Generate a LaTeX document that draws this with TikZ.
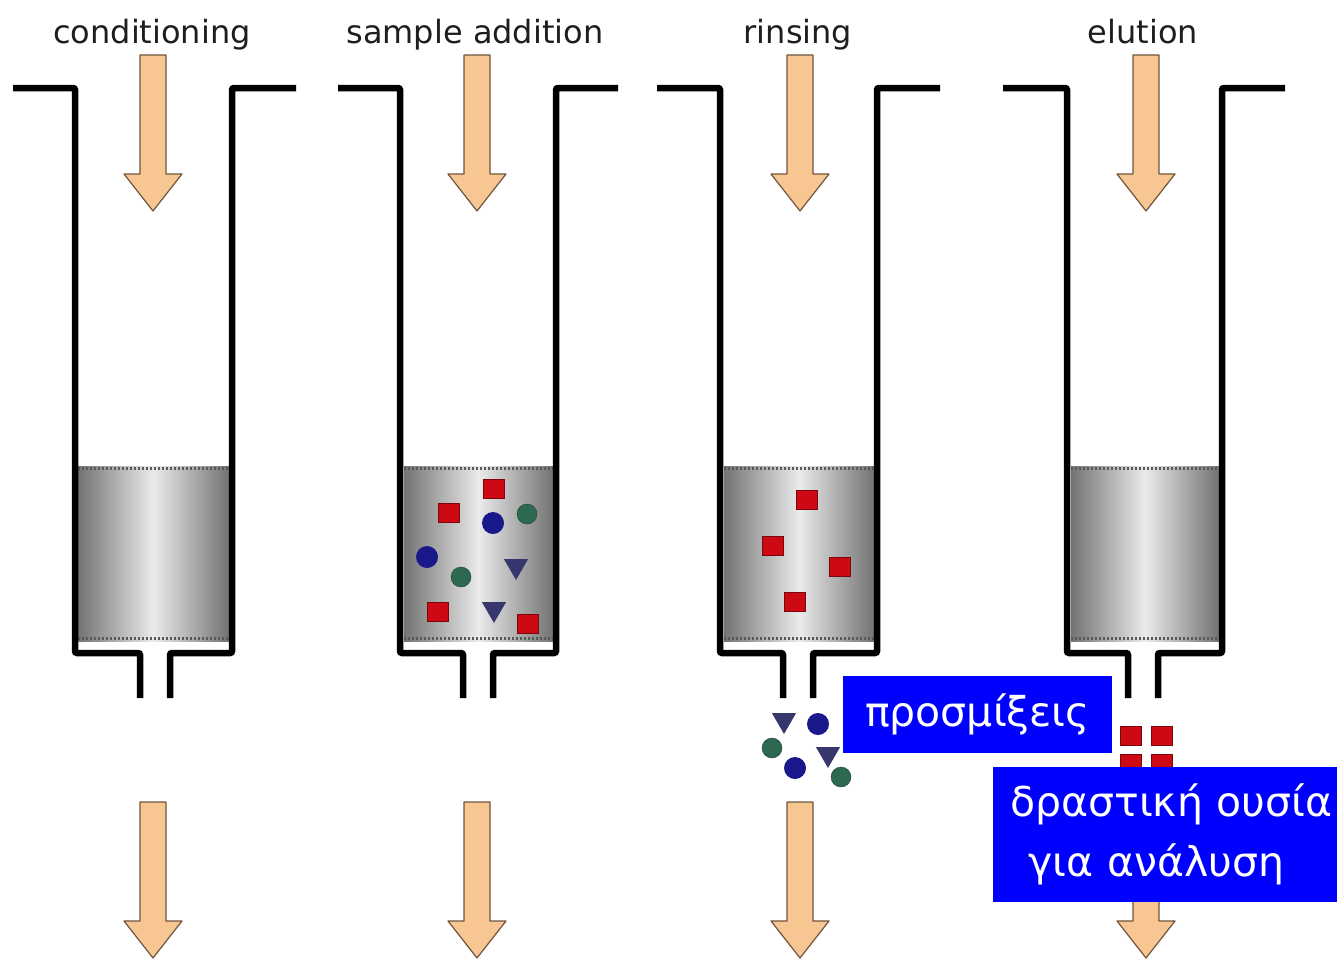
\documentclass[tikz,border=0pt]{standalone}
\usepackage{fontspec}
\setmainfont{DejaVu Sans}
\usetikzlibrary{shapes.geometric}

\definecolor{peach}{RGB}{248,198,146}
\definecolor{peachline}{RGB}{110,85,60}
\definecolor{beadred}{RGB}{205,10,20}
\definecolor{beadblue}{RGB}{25,25,140}
\definecolor{beadgreen}{RGB}{45,105,80}
\definecolor{beadnavy}{RGB}{55,55,110}
\definecolor{labelgray}{RGB}{30,30,30}

\begin{document}
\begin{tikzpicture}[x=1pt, y=-1pt,
    wall/.style={line width=6.5pt, rounded corners=2pt},
    frit/.style={line width=3pt, black!65, dash pattern=on 2pt off 2pt},
    packing/.style={left color=black!55, right color=black!55, middle color=black!8},
    flowarrow/.style={fill=peach, draw=peachline, line width=1.2pt, line join=round},
    steplabel/.style={anchor=base, text=labelgray, font=\fontsize{32}{38}\selectfont},
    tagbox/.style={fill=blue, text=white, inner sep=0pt, font=\fontsize{41}{60}\selectfont},
    redbead/.style={rectangle, fill=beadred, draw=beadred!60!black, line width=1pt, minimum width=21pt, minimum height=19pt, inner sep=0pt},
    bluebead/.style={circle, fill=beadblue, minimum size=22pt, inner sep=0pt},
    greenbead/.style={circle, fill=beadgreen, draw=beadgreen!60!black, minimum size=20pt, inner sep=0pt},
    navybead/.style={regular polygon, regular polygon sides=3, shape border rotate=180, fill=beadnavy, minimum size=28pt, inner sep=0pt}]
        \useasboundingbox (0, 0) rectangle (1337, 959);

        % packing beds
        \shade[packing] (78, 466) rectangle (229, 641);
        \shade[packing] (404, 466) rectangle (553, 641);
        \shade[packing] (724, 466) rectangle (874, 641);
        \shade[packing] (1071, 466) rectangle (1219, 641);
        \foreach \a/\b in {78/229, 404/553, 724/874, 1071/1219} {
            \draw[frit] (\a, 468) -- (\b, 468);
            \draw[frit] (\a, 638) -- (\b, 638);
        }

        % cartridges
        \draw[wall] (13, 88) -- (75, 88) -- (75, 653) -- (140, 653) -- (140, 698);
        \draw[wall] (170, 698) -- (170, 653) -- (232, 653) -- (232, 88) -- (296, 88);
        \draw[wall] (338, 88) -- (400, 88) -- (400, 653) -- (463, 653) -- (463, 698);
        \draw[wall] (493, 698) -- (493, 653) -- (556, 653) -- (556, 88) -- (618, 88);
        \draw[wall] (657, 88) -- (720, 88) -- (720, 653) -- (783, 653) -- (783, 698);
        \draw[wall] (813, 698) -- (813, 653) -- (877, 653) -- (877, 88) -- (940, 88);
        \draw[wall] (1003, 88) -- (1067, 88) -- (1067, 653) -- (1128, 653) -- (1128, 698);
        \draw[wall] (1158, 698) -- (1158, 653) -- (1222, 653) -- (1222, 88) -- (1285, 88);

        % flow arrows
        \foreach \cx/\ty in {153/55, 477/55, 800/55, 1146/55, 153/802, 477/802, 800/802, 1146/802}
            \draw[flowarrow] (\cx-13, \ty) -- (\cx+13, \ty) -- (\cx+13, \ty+119) -- (\cx+29, \ty+119)
                -- (\cx, \ty+156) -- (\cx-29, \ty+119) -- (\cx-13, \ty+119) -- cycle;

        \node[steplabel] (cond) at (152, 43) {conditioning};
        \node[steplabel] (samp) at (475, 43) {sample addition};
        \node[steplabel] (rins) at (798, 43) {rinsing};
        \node[steplabel] (elut) at (1143, 43) {elution};

        % sample addition
        \node[redbead] (s1) at (494, 489) {};
        \node[redbead] (s2) at (449, 513) {};
        \node[redbead] (s3) at (438, 612) {};
        \node[redbead] (s4) at (528, 624) {};
        \node[bluebead] (s5) at (493, 523) {};
        \node[bluebead] (s6) at (427, 557) {};
        \node[greenbead] (s7) at (527, 514) {};
        \node[greenbead] (s8) at (461, 577) {};
        \node[navybead] (s9) at (516, 566) {};
        \node[navybead] (s10) at (494, 609) {};

        % rinsing
        \node[redbead] (r1) at (807, 500) {};
        \node[redbead] (r2) at (773, 546) {};
        \node[redbead] (r3) at (840, 567) {};
        \node[redbead] (r4) at (795, 602) {};
        \node[navybead] (r5) at (784, 720) {};
        \node[navybead] (r6) at (828, 754) {};
        \node[bluebead] (r7) at (818, 724) {};
        \node[bluebead] (r8) at (795, 768) {};
        \node[greenbead] (r9) at (772, 748) {};
        \node[greenbead] (r10) at (841, 777) {};

        % elution
        \node[redbead] (e1) at (1131, 736) {};
        \node[redbead] (e2) at (1162, 736) {};
        \node[redbead] (e3) at (1131, 764) {};
        \node[redbead] (e4) at (1162, 764) {};

        \node[tagbox, minimum width=269pt, minimum height=77pt] (imp) at (977.5, 714.5) {προσμίξεις};
        \node[tagbox, anchor=north west, minimum height=135pt, text width=324pt, inner xsep=17pt, align=left] (act) at (993, 767)
            {δραστική ουσία\\\hspace{0.45em}για ανάλυση};

    \end{tikzpicture}
\end{document}
